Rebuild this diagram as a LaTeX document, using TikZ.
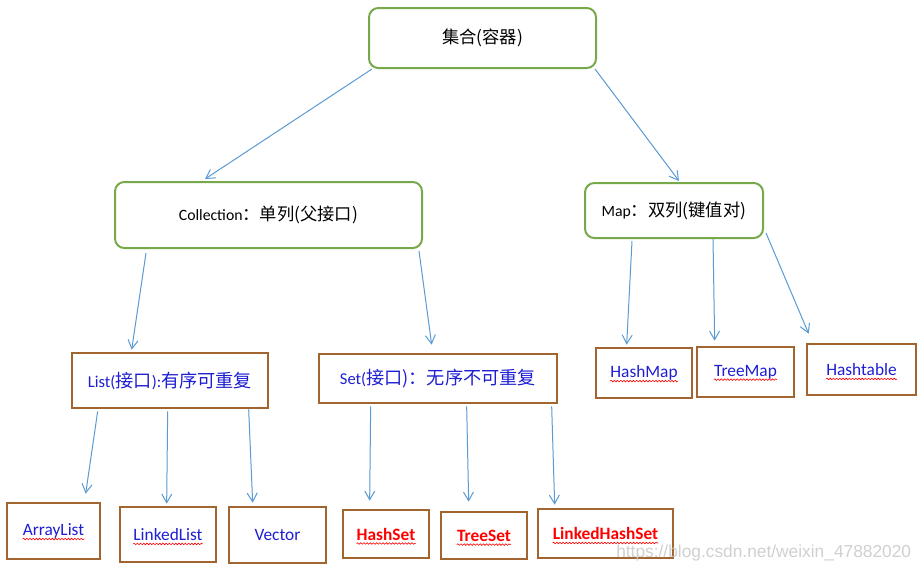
\documentclass[tikz,border=0pt]{standalone}
\usepackage{fontspec}
\setmainfont{Carlito}
\newfontfamily\cjk[Scale=1.1]{Noto Sans CJK SC}
\newfontfamily\wmfont{Liberation Sans}
\usetikzlibrary{arrows.meta,calc,decorations.pathmorphing}
\definecolor{gbord}{RGB}{119,169,74}
\definecolor{bbord}{RGB}{163,101,48}
\definecolor{arrc}{RGB}{91,155,213}
\definecolor{blu}{RGB}{30,30,210}
\definecolor{wmgray}{RGB}{200,200,200}
\newcommand\midfont{\fontsize{11.8}{14}\selectfont}
\newcommand\listfont{\fontsize{12.4}{14}\selectfont}
\newcommand\botfont{\fontsize{13}{16}\selectfont}
\tikzset{
  gbox/.style={draw=gbord, line width=1.5pt, rounded corners=7pt, fill=white, font=\midfont, inner sep=0pt},
  bbox/.style={draw=bbord, line width=2pt, fill=white, inner sep=0pt},
  arr/.style={draw=arrc, line width=0.75pt, -{Straight Barb[length=6.5pt,width=7.5pt]}},
  btxt/.style={text=blu, font=\botfont, inner sep=0pt},
  rtxt/.style={text=red, font=\botfont\bfseries, inner sep=0pt},
  wav/.style={draw=red, line width=0.45pt, decorate, decoration={snake, amplitude=0.6pt, segment length=2.4pt}},
}
\begin{document}
\begin{tikzpicture}[x=0.75pt,y=-0.75pt]
\useasboundingbox (0,0) rectangle (923,571);
\fill[white] (0,0) rectangle (923,571);

% top level
\node[gbox, minimum width=170.25pt, minimum height=45pt] (top) at (482.5,38) {\cjk 集合(容器)};
\node[gbox, minimum width=230.25pt, minimum height=49.5pt] (coll) at (268.5,215) {Collection{\cjk ：单列(父接口)}};
\node[gbox, minimum width=133.5pt, minimum height=41.25pt] (map) at (674,210.5) {Map{\cjk ：双列(键值对)}};

% interfaces
\node[bbox, minimum width=147pt, minimum height=41.25pt, text=blu, font=\listfont] (list) at (170,380.5) {List({\cjk 接口}):{\cjk 有序可重复}};
\node[bbox, minimum width=178.5pt, minimum height=36.75pt, text=blu, font=\listfont] (set) at (438,378.5) {Set({\cjk 接口)：无序不可重复}};

% map implementations
\node[bbox, minimum width=72pt, minimum height=37.5pt, label={[name=hmapT, btxt]center:HashMap}] (hmap) at (644,373) {};
\node[bbox, minimum width=72.75pt, minimum height=37.5pt, label={[name=tmapT, btxt]center:TreeMap}] (tmap) at (745.5,372) {};
\node[bbox, minimum width=81.75pt, minimum height=38.25pt, label={[name=htabT, btxt]center:Hashtable}] (htab) at (861.5,369.5) {};

% list implementations
\node[bbox, minimum width=69.75pt, minimum height=42pt, label={[name=alistT, btxt]center:ArrayList}] (alist) at (53.5,531) {};
\node[bbox, minimum width=72pt, minimum height=41.25pt, label={[name=llistT, btxt]center:LinkedList}] (llist) at (168,534.5) {};
\node[bbox, minimum width=72.75pt, minimum height=42pt, label={[name=vecT, btxt]center:Vector}] (vec) at (277.5,535) {};

% set implementations
\node[bbox, minimum width=64.5pt, minimum height=36pt, label={[name=hsetT, rtxt]center:HashSet}] (hset) at (386,534) {};
\node[bbox, minimum width=64.5pt, minimum height=35.25pt, label={[name=tsetT, rtxt]center:TreeSet}] (tset) at (484,535.5) {};
\node[bbox, minimum width=101.25pt, minimum height=36.75pt, label={[name=lhsetT, rtxt]center:LinkedHashSet}] (lhset) at (605.5,533.5) {};

% spell-check wavy underlines
\foreach \t in {hmapT,tmapT,htabT,alistT,llistT,hsetT,tsetT,lhsetT}{
  \draw[wav] ([yshift=-2.6pt]\t.base west) -- ([yshift=-2.6pt]\t.base east);
}

% connectors
\draw[arr] ($(top.south west)+(4,0)$) -- ($(coll.north west)+(91,-2)$);
\draw[arr] ($(top.south east)+(-2,0)$) -- ($(map.north west)+(95,-1)$);

\draw[arr] ($(coll.south west)+(32,4)$) -- ($(list.north west)+(61,-2)$);
\draw[arr] ($(coll.south east)+(-4,2)$) -- ($(set.north west)+(114,-8)$);

\draw[arr] ($(map.south west)+(48,2)$) -- ($(hmap.north west)+(32,-2)$);
\draw[arr] ($(map.south west)+(129,0)$) -- ($(tmap.north west)+(19,-5)$);
\draw[arr] ($(map.south east)+(2,-6)$) -- ($(htab.north west)+(3,-9)$);

\draw[arr] ($(list.south west)+(27,2)$) -- ($(alist.north west)+(80,-8)$);
\draw[arr] ($(list.south west)+(97,2)$) -- ($(llist.north west)+(48,-2)$);
\draw[arr] ($(list.south west)+(178,0)$) -- ($(vec.north west)+(25,-3)$);

\draw[arr] ($(set.south west)+(53,2)$) -- ($(hset.north west)+(28,-8)$);
\draw[arr] ($(set.south west)+(149,2)$) -- ($(tset.north west)+(29,-9)$);
\draw[arr] ($(set.south west)+(234,2)$) -- ($(lhset.north west)+(18,-3)$);

% watermark
\node[anchor=base west, inner sep=0pt, text=wmgray, text opacity=0.85, font=\wmfont\fontsize{13}{15}\selectfont] (wm) at (616,557) {https://blog.csdn.net/weixin\_47882020};
\end{tikzpicture}
\end{document}
